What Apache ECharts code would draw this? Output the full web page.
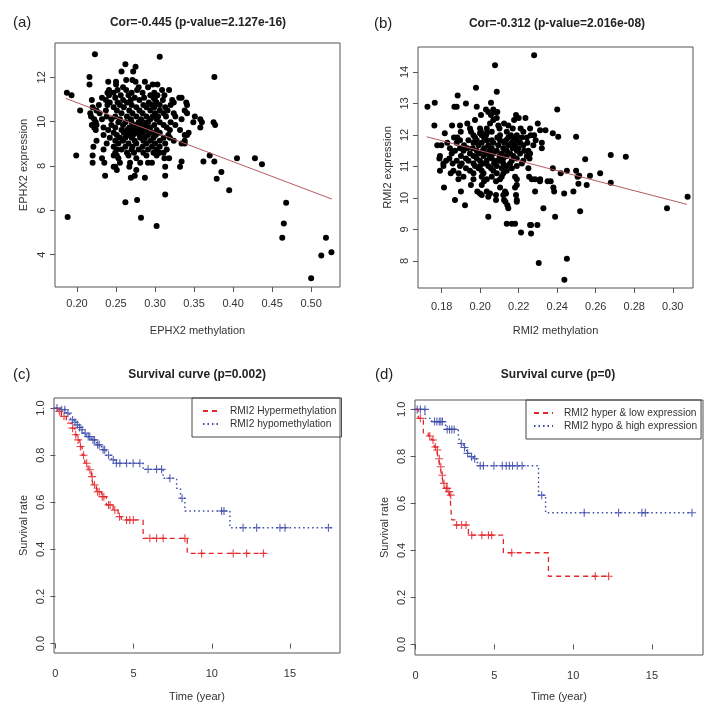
<!DOCTYPE html>
<html>
<head>
<meta charset="utf-8">
<script src="https://cdn.jsdelivr.net/npm/echarts@6/dist/echarts.min.js"></script>
<style>html,body{margin:0;padding:0;background:#fff}#c{width:720px;height:727px}</style>
</head>
<body>
<div id="c"></div>
<script>
// ---------- Panel (a): EPHX2 methylation vs expression, rows of [y, [x...]] ----------
const rowsA = [
 [13.04,[0.223]],[12.93,[0.306]],[12.59,[0.262]],[12.48,[0.275]],[12.26,[0.257,0.272]],
 [12.02,[0.216,0.376]],[11.88,[0.263,0.271]],[11.80,[0.240,0.250,0.287,0.275]],
 [11.68,[0.216,0.250,0.297,0.303]],[11.55,[0.259,0.279,0.291]],
 [11.43,[0.241,0.252,0.263,0.277,0.309,0.318]],[11.31,[0.187,0.239,0.247,0.270,0.284,0.299]],
 [11.19,[0.193,0.241,0.256,0.266,0.294,0.303,0.312]],
 [11.08,[0.232,0.249,0.274,0.286,0.298,0.331,0.334]],
 [10.98,[0.219,0.237,0.259,0.269,0.280,0.300,0.310,0.322]],
 [10.86,[0.242,0.252,0.264,0.292,0.302,0.324,0.340]],
 [10.75,[0.228,0.239,0.255,0.270,0.285,0.296,0.306,0.320,0.341]],
 [10.65,[0.220,0.247,0.260,0.276,0.289,0.299,0.313]],
 [10.50,[0.204,0.225,0.237,0.251,0.267,0.280,0.294,0.306,0.316,0.338]],
 [10.38,[0.217,0.229,0.257,0.271,0.284,0.300,0.311,0.324,0.341]],
 [10.23,[0.218,0.238,0.249,0.264,0.276,0.289,0.297,0.304,0.314,0.326,0.351]],
 [10.11,[0.222,0.232,0.244,0.255,0.269,0.282,0.294,0.302,0.334,0.358]],
 [9.97,[0.224,0.253,0.262,0.270,0.279,0.285,0.291,0.306,0.320,0.349,0.360,0.375]],
 [9.85,[0.219,0.225,0.244,0.259,0.276,0.283,0.288,0.299,0.311,0.326,0.377]],
 [9.74,[0.222,0.234,0.249,0.267,0.272,0.280,0.286,0.294,0.315,0.358]],
 [9.62,[0.224,0.240,0.257,0.264,0.270,0.274,0.281,0.289,0.302,0.319,0.332]],
 [9.50,[0.247,0.260,0.269,0.277,0.284,0.296,0.306,0.343]],
 [9.40,[0.234,0.251,0.266,0.272,0.280,0.291,0.301,0.317,0.338,0.341]],
 [9.28,[0.242,0.255,0.262,0.270,0.281,0.287,0.298,0.311,0.319]],
 [9.14,[0.225,0.249,0.259,0.274,0.285,0.294,0.306,0.324,0.338]],
 [9.02,[0.238,0.253,0.266,0.276,0.289,0.300,0.313,0.334,0.338]],
 [8.87,[0.221,0.247,0.262,0.271,0.284,0.296,0.306]],
 [8.75,[0.234,0.251,0.257,0.270,0.279,0.291,0.302,0.315]],
 [8.60,[0.249,0.264,0.273,0.285,0.298,0.306,0.311]],
 [8.47,[0.199,0.220,0.247,0.251,0.266,0.289,0.302,0.370]],
 [8.35,[0.232,0.253,0.276,0.312,0.318,0.405,0.428]],
 [8.20,[0.334,0.362,0.376]],
 [8.15,[0.220,0.235,0.255,0.268,0.281,0.291,0.296]],
 [8.08,[0.437]],[7.97,[0.247,0.249,0.267,0.313,0.332]],[7.82,[0.251,0.276]],
 [7.73,[0.385]],[7.56,[0.236,0.274,0.313]],[7.47,[0.269,0.287]],[7.42,[0.379]],
 [6.91,[0.395]],[6.71,[0.313]],[6.47,[0.277]],[6.36,[0.262]],[6.34,[0.468]],
 [5.70,[0.188]],[5.67,[0.282]],[5.41,[0.465]],[5.29,[0.302]],[4.76,[0.463,0.519]],
 [4.11,[0.526]],[3.96,[0.513]],[2.93,[0.500]]
];
const regA = [[0.1855, 11.05], [0.5265, 6.51]];
const xTicksA = [0.20, 0.25, 0.30, 0.35, 0.40, 0.45, 0.50];
const yTicksA = [4, 6, 8, 10, 12];

// ---------- Panel (b): RMI2 methylation vs expression ----------
const rowsB = [
 [14.53,[0.228]],[14.21,[0.2077]],[13.50,[0.1978]],[13.37,[0.2086]],[13.25,[0.1883]],
 [13.02,[0.1764,0.2056]],[13.00,[0.1926]],[12.89,[0.1726,0.1866,0.1878,0.1982]],
 [12.81,[0.203,0.2068,0.240]],[12.73,[0.2042,0.2077,0.2089]],[12.63,[0.2004,0.2056,0.2186]],
 [12.54,[0.2086,0.22,0.2235]],[12.47,[0.1973,0.2068,0.2176]],[12.36,[0.1933,0.2051,0.2124,0.2299]],
 [12.30,[0.1762,0.1854,0.1895,0.2094,0.2146]],
 [12.20,[0.1947,0.1999,0.2034,0.21,0.2169,0.221,0.2259]],[12.15,[0.2311,0.2339]],
 [12.10,[0.1899,0.1952,0.2004,0.206,0.2138,0.2224]],[12.05,[0.1816,0.1999,0.2034,0.2377]],
 [11.99,[0.1965,0.2008,0.203,0.2103,0.2159,0.219,0.2262,0.228]],[11.94,[0.2405,0.2498]],
 [11.92,[0.1864,0.1881,0.1973,0.202,0.2089,0.2146,0.2172,0.2216,0.2242]],
 [11.83,[0.1895,0.1939,0.1982,0.2034,0.206,0.2103,0.2134,0.219,0.2288]],
 [11.75,[0.1829,0.1878,0.1965,0.2008,0.2068,0.2124,0.2164,0.2207,0.2245,0.232]],
 [11.67,[0.1777,0.1798,0.1916,0.1991,0.2042,0.2094,0.2146,0.2181,0.2224,0.2276]],
 [11.58,[0.1843,0.1895,0.1933,0.1961,0.202,0.206,0.212,0.2169,0.2198,0.232]],
 [11.50,[0.1869,0.1913,0.1982,0.2013,0.2048,0.2086,0.2138,0.219,0.2228,0.225]],
 [11.41,[0.1852,0.1947,0.1991,0.203,0.2068,0.2112,0.2155,0.2207,0.2259]],
 [11.36,[0.2678]],[11.31,[0.2756]],
 [11.33,[0.1791,0.19,0.1965,0.2017,0.2048,0.21,0.2138,0.2172,0.2242]],
 [11.25,[0.1788,0.184,0.1926,0.1982,0.206,0.212,0.219,0.2256]],[11.23,[0.2545]],
 [11.18,[0.1823,0.1878,0.1939,0.1999,0.2034,0.2086,0.2103,0.2164,0.2224]],
 [11.09,[0.1809,0.1857,0.1904,0.1965,0.202,0.2072,0.212,0.2155,0.2216]],
 [11.01,[0.1809,0.1895,0.1973,0.1999,0.2042,0.2086,0.2138,0.219]],
 [10.94,[0.1926,0.1991,0.2056,0.2112,0.2164,0.225,0.2377]],
 [10.86,[0.1791,0.1861,0.1947,0.2008,0.2068,0.2138,0.245,0.2498]],
 [10.78,[0.1847,0.1888,0.1965,0.2017,0.2086,0.212,0.2418,0.2623]],
 [10.70,[0.2514,0.257]],
 [10.67,[0.1913,0.2008,0.206,0.2112,0.2181,0.2254,0.2506]],
 [10.59,[0.1887,0.1965,0.2034,0.2103,0.219,0.2268,0.2285,0.2311]],
 [10.53,[0.202,0.2082,0.231,0.235,0.2366]],[10.48,[0.2678]],[10.45,[0.251]],
 [10.41,[0.1952,0.2008,0.219,0.2553]],[10.33,[0.1812,0.2103,0.2181,0.238]],
 [10.20,[0.19,0.1985,0.2034,0.2129,0.2285,0.2384,0.2484]],
 [10.14,[0.1999,0.2051,0.2134,0.2436]],[10.09,[0.2008,0.2082,0.212,0.2186]],
 [10.04,[0.2042,0.3077]],[9.93,[0.1869,0.2082,0.2124,0.219]],[9.88,[0.2131,0.219]],
 [9.77,[0.1921,0.2141]],[9.67,[0.2146,0.2328,0.297]],[9.58,[0.2519]],
 [9.40,[0.2042,0.2389]],[9.18,[0.2138,0.2164,0.2181]],[9.14,[0.2259,0.2297,0.2264]],
 [8.90,[0.2212]],[8.87,[0.2264]],[8.07,[0.245]],[7.93,[0.2304]],[7.40,[0.2437]]
];
const regB = [[0.1722, 11.94], [0.3073, 9.795]];
const xTicksB = [0.18, 0.20, 0.22, 0.24, 0.26, 0.28, 0.30];
const yTicksB = [8, 9, 10, 11, 12, 13, 14];

// ---------- Panel (c): Kaplan-Meier, [time, survival] ----------
const kmCHyper = [[0,1.0],[0.17,0.986],[0.38,0.965],[0.7,0.936],[1.02,0.915],[1.24,0.887],[1.39,0.865],
 [1.56,0.837],[1.71,0.80],[1.88,0.766],[2.09,0.738],[2.3,0.709],[2.41,0.674],[2.62,0.645],[2.94,0.624],
 [3.26,0.589],[3.69,0.567],[4.01,0.539],[4.22,0.525],[5.61,0.447],[8.43,0.383],[13.4,0.383]];
const censCHyper = [[0.25,0.986],[0.55,0.965],[1.1,0.915],[1.3,0.887],[1.45,0.865],[1.6,0.837],[1.8,0.80],
 [2.0,0.766],[2.2,0.738],[2.35,0.709],[2.5,0.674],[2.7,0.645],[2.8,0.645],[3.0,0.624],[3.1,0.624],
 [3.4,0.589],[3.5,0.589],[3.8,0.567],[4.1,0.539],[4.55,0.525],[4.76,0.525],[4.98,0.525],
 [6.04,0.447],[6.47,0.447],[6.89,0.447],[8.28,0.447],[9.35,0.383],[11.37,0.383],[12.23,0.383],[13.3,0.383]];
const kmCHypo = [[0,1.0],[0.28,0.993],[0.7,0.979],[0.9,0.965],[1.02,0.95],[1.2,0.94],[1.34,0.929],
 [1.5,0.918],[1.66,0.908],[1.8,0.894],[1.98,0.879],[2.3,0.865],[2.62,0.844],[2.94,0.823],[3.26,0.80],
 [3.59,0.78],[3.8,0.766],[5.61,0.74],[6.89,0.702],[7.75,0.66],[8.0,0.617],[8.28,0.563],[11.16,0.492],[17.67,0.492]];
const censCHypo = [[0.1,1.0],[0.4,0.993],[0.6,0.993],[0.8,0.979],[1.1,0.95],[1.25,0.94],[1.4,0.929],
 [1.55,0.918],[1.7,0.908],[1.9,0.894],[2.1,0.879],[2.2,0.879],[2.4,0.865],[2.5,0.865],[2.7,0.844],
 [2.8,0.844],[3.05,0.823],[3.15,0.823],[3.4,0.80],[3.7,0.78],[3.9,0.766],[4.12,0.766],[4.55,0.766],
 [4.97,0.766],[5.4,0.766],[5.93,0.74],[6.47,0.74],[6.79,0.74],[7.32,0.702],[8.1,0.617],
 [10.63,0.563],[10.78,0.563],[12.0,0.492],[12.87,0.492],[14.36,0.492],[14.68,0.492],[17.46,0.492]];

// ---------- Panel (d) ----------
const kmDLow = [[0,1.0],[0.17,0.962],[0.49,0.90],[0.8,0.887],[1.02,0.87],[1.17,0.84],[1.33,0.827],
 [1.44,0.79],[1.55,0.756],[1.65,0.72],[1.76,0.685],[1.86,0.664],[2.08,0.65],[2.18,0.635],[2.29,0.53],
 [2.5,0.508],[3.35,0.465],[5.57,0.39],[8.43,0.29],[12.35,0.29]];
const censDLow = [[0.3,0.962],[0.9,0.887],[1.1,0.87],[1.25,0.84],[1.38,0.827],[1.5,0.79],[1.6,0.756],
 [1.7,0.72],[1.8,0.685],[1.95,0.664],[2.0,0.664],[2.12,0.65],[2.23,0.635],[2.6,0.508],[2.92,0.508],
 [3.2,0.508],[3.56,0.465],[4.2,0.465],[4.62,0.465],[4.83,0.465],[6.1,0.39],[11.4,0.29],[12.25,0.29]];
const kmDHigh = [[0,1.0],[0.6,0.962],[1.02,0.948],[1.9,0.915],[2.71,0.884],[2.82,0.855],[3.03,0.838],
 [3.24,0.813],[3.45,0.799],[3.67,0.79],[3.92,0.76],[7.8,0.635],[8.25,0.56],[17.54,0.56]];
const censDHigh = [[0.1,1.0],[0.3,1.0],[0.59,1.0],[1.2,0.948],[1.35,0.948],[1.5,0.948],[1.6,0.948],
 [1.7,0.948],[2.0,0.915],[2.15,0.915],[2.3,0.915],[2.45,0.915],[2.9,0.855],[3.1,0.838],[3.3,0.813],
 [3.55,0.799],[3.75,0.79],[4.1,0.76],[4.3,0.76],[4.97,0.76],[5.5,0.76],[5.75,0.76],[5.95,0.76],
 [6.15,0.76],[6.45,0.76],[6.76,0.76],[8.0,0.635],[10.7,0.56],[12.88,0.56],[14.36,0.56],[14.58,0.56],[17.54,0.56]];
const xTicksKM = [0, 5, 10, 15];
const yTicksKM = [0, 0.2, 0.4, 0.6, 0.8, 1.0];

// ---------- build ----------
function expand(rows) { const out = []; rows.forEach(([y, xs]) => xs.forEach(x => out.push([x, y]))); return out; }
const FONT = '"Liberation Sans", Arial, sans-serif';
const TXT = '#333';
const RED = '#e3262c', BLUE = '#3a48a6', REG = '#b85a62';
const PLUS = 'path://M4.3,0 H5.7 V4.3 H10 V5.7 H5.7 V10 H4.3 V5.7 H0 V4.3 H4.3 Z';

function xAxis(i, min, max, ticks, dec, name, gap, margin) {
  return {type:'value', gridIndex:i, min, max, name, nameLocation:'middle', nameGap:gap,
    nameTextStyle:{fontFamily:FONT, fontSize:11, color:TXT},
    axisLine:{show:false}, splitLine:{show:false},
    axisTick:{show:true, inside:false, length:5, customValues:ticks, lineStyle:{color:'#555'}},
    axisLabel:{customValues:ticks, margin:margin, fontFamily:FONT, fontSize:11, color:TXT,
      formatter:v => v.toFixed(dec)}};
}
function yAxis(i, min, max, ticks, dec, name, gap) {
  return {type:'value', gridIndex:i, min, max, name, nameLocation:'middle', nameGap:gap,
    nameTextStyle:{fontFamily:FONT, fontSize:11, color:TXT},
    axisLine:{show:false}, splitLine:{show:false},
    axisTick:{show:true, inside:false, length:5, customValues:ticks, lineStyle:{color:'#555'}},
    axisLabel:{customValues:ticks, rotate:90, margin:8, fontFamily:FONT, fontSize:11, color:TXT,
      formatter:v => v.toFixed(dec)}};
}
const gridBase = {show:true, borderColor:'#555', borderWidth:1, backgroundColor:'transparent'};
const legendText = {fontFamily:FONT, fontSize:10.2, color:TXT};

const option = {
  animation:false,
  backgroundColor:'#fff',
  title:[
    {text:'(a)', left:13, top:15, padding:0, textStyle:{fontFamily:FONT, fontSize:15, fontWeight:'normal', color:'#222'}},
    {text:'Cor=-0.445 (p-value=2.127e-16)', left:198, top:17, padding:0, textAlign:'center', textStyle:{fontFamily:FONT, fontSize:12, fontWeight:'bold', color:'#222'}},
    {text:'(b)', left:374, top:16, padding:0, textStyle:{fontFamily:FONT, fontSize:15, fontWeight:'normal', color:'#222'}},
    {text:'Cor=-0.312 (p-value=2.016e-08)', left:557, top:18, padding:0, textAlign:'center', textStyle:{fontFamily:FONT, fontSize:12, fontWeight:'bold', color:'#222'}},
    {text:'(c)', left:13, top:367, padding:0, textStyle:{fontFamily:FONT, fontSize:15, fontWeight:'normal', color:'#222'}},
    {text:'Survival curve (p=0.002)', left:197, top:369, padding:0, textAlign:'center', textStyle:{fontFamily:FONT, fontSize:12, fontWeight:'bold', color:'#222'}},
    {text:'(d)', left:375, top:367, padding:0, textStyle:{fontFamily:FONT, fontSize:15, fontWeight:'normal', color:'#222'}},
    {text:'Survival curve (p=0)', left:558, top:369, padding:0, textAlign:'center', textStyle:{fontFamily:FONT, fontSize:12, fontWeight:'bold', color:'#222'}}
  ],
  legend:[
    {data:['RMI2 Hypermethylation','RMI2 hypomethylation'], orient:'vertical', left:192, top:398,
     padding:[8,5,8,10], itemGap:3, itemWidth:15, itemHeight:10, borderColor:'#444', borderWidth:1,
     itemStyle:{opacity:0}, textStyle:Object.assign({padding:[0,0,0,7]}, legendText), selectedMode:false},
    {data:['RMI2 hyper & low expression','RMI2 hypo & high expression'], orient:'vertical', left:526, top:400,
     padding:[8,4,8,7], itemGap:3, itemWidth:19, itemHeight:10, borderColor:'#444', borderWidth:1,
     itemStyle:{opacity:0}, textStyle:Object.assign({padding:[0,0,0,6]}, legendText), selectedMode:false}
  ],
  grid:[
    Object.assign({left:55, top:43, width:285, height:244}, gridBase),
    Object.assign({left:418, top:47, width:275, height:241}, gridBase),
    Object.assign({left:54, top:398, width:286, height:255}, gridBase),
    Object.assign({left:415, top:400, width:288, height:255}, gridBase)
  ],
  xAxis:[
    xAxis(0, 0.1718, 0.537, xTicksA, 2, 'EPHX2 methylation', 38, 11),
    xAxis(1, 0.1677, 0.3105, xTicksB, 2, 'RMI2 methylation', 37, 13),
    xAxis(2, -0.09, 18.2, xTicksKM, 0, 'Time (year)', 38, 15),
    xAxis(3, -0.04, 18.24, xTicksKM, 0, 'Time (year)', 36, 15)
  ],
  yAxis:[
    yAxis(0, 2.54, 13.55, yTicksA, 0, 'EPHX2 expression', 26),
    yAxis(1, 7.14, 14.79, yTicksB, 0, 'RMI2 expression', 25),
    yAxis(2, -0.04, 1.043, yTicksKM, 1, 'Survival rate', 25),
    yAxis(3, -0.045, 1.04, yTicksKM, 1, 'Survival rate', 25)
  ],
  series:[
    {type:'scatter', xAxisIndex:0, yAxisIndex:0, data:expand(rowsA), symbolSize:6, itemStyle:{color:'#000', opacity:1}, silent:true},
    {type:'line', xAxisIndex:0, yAxisIndex:0, data:regA, symbol:'none', lineStyle:{color:REG, width:1}, silent:true},
    {type:'scatter', xAxisIndex:1, yAxisIndex:1, data:expand(rowsB), symbolSize:6, itemStyle:{color:'#000', opacity:1}, silent:true},
    {type:'line', xAxisIndex:1, yAxisIndex:1, data:regB, symbol:'none', lineStyle:{color:REG, width:1}, silent:true},

    {name:'RMI2 Hypermethylation', type:'line', step:'end', xAxisIndex:2, yAxisIndex:2, data:kmCHyper, symbol:'none',
     itemStyle:{color:RED}, lineStyle:{color:RED, width:1.3, type:[5,4]}, silent:true},
    {name:'RMI2 hypomethylation', type:'line', step:'end', xAxisIndex:2, yAxisIndex:2, data:kmCHypo, symbol:'none',
     itemStyle:{color:BLUE}, lineStyle:{color:BLUE, width:1.4, type:[1.5,3]}, silent:true},
    {type:'scatter', xAxisIndex:2, yAxisIndex:2, data:censCHyper, symbol:PLUS, symbolSize:8, itemStyle:{color:RED, opacity:0.85}, silent:true},
    {type:'scatter', xAxisIndex:2, yAxisIndex:2, data:censCHypo, symbol:PLUS, symbolSize:8, itemStyle:{color:BLUE, opacity:0.85}, silent:true},

    {name:'RMI2 hyper & low expression', type:'line', step:'end', xAxisIndex:3, yAxisIndex:3, data:kmDLow, symbol:'none',
     itemStyle:{color:RED}, lineStyle:{color:RED, width:1.3, type:[5,4]}, silent:true},
    {name:'RMI2 hypo & high expression', type:'line', step:'end', xAxisIndex:3, yAxisIndex:3, data:kmDHigh, symbol:'none',
     itemStyle:{color:BLUE}, lineStyle:{color:BLUE, width:1.4, type:[1.5,3]}, silent:true},
    {type:'scatter', xAxisIndex:3, yAxisIndex:3, data:censDLow, symbol:PLUS, symbolSize:8, itemStyle:{color:RED, opacity:0.85}, silent:true},
    {type:'scatter', xAxisIndex:3, yAxisIndex:3, data:censDHigh, symbol:PLUS, symbolSize:8, itemStyle:{color:BLUE, opacity:0.85}, silent:true}
  ]
};
const chart = echarts.init(document.getElementById('c'), null, {renderer:'canvas'});
chart.setOption(option);
</script>
</body>
</html>
